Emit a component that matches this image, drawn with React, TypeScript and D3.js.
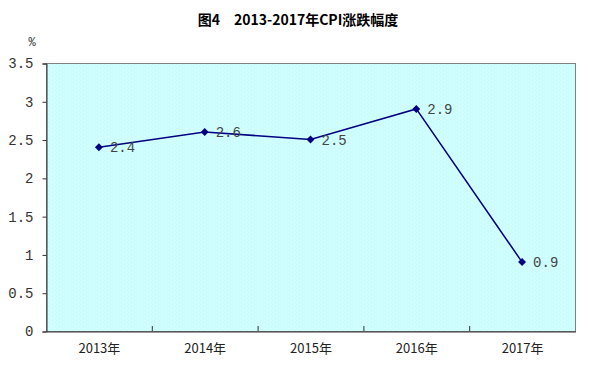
import React, { useEffect, useRef } from "react";
import * as d3 from "d3";

const years = ["2013年", "2014年", "2015年", "2016年", "2017年"];
const cpi = [2.4, 2.6, 2.5, 2.9, 0.9];
const yTicks = [0, 0.5, 1, 1.5, 2, 2.5, 3, 3.5];
const title = "图4　2013-2017年CPI涨跌幅度";

const W = 590;
const H = 368;
const M = { left: 46, right: 15, top: 63, bottom: 37 };

const fmt = (v: number) => (Number.isInteger(v) ? String(v) : v.toFixed(1));

const App: React.FC = () => {
  const ref = useRef<SVGSVGElement | null>(null);

  useEffect(() => {
    if (!ref.current) return;
    const svg = d3.select(ref.current);
    svg.selectAll("*").remove();

    const x = d3
      .scaleBand<string>()
      .domain(years)
      .range([M.left, W - M.right]);
    const y = d3
      .scaleLinear()
      .domain([0, 3.5])
      .range([H - M.bottom, M.top]);

    const defs = svg.append("defs");
    const pat = defs
      .append("pattern")
      .attr("id", "dots")
      .attr("patternUnits", "userSpaceOnUse")
      .attr("width", 6)
      .attr("height", 4);
    pat.append("rect").attr("width", 6).attr("height", 4).attr("fill", "#ccfefe");
    pat.append("rect").attr("x", 0).attr("y", 0).attr("width", 1).attr("height", 1).attr("fill", "#e8fefe");
    pat.append("rect").attr("x", 3).attr("y", 2).attr("width", 1).attr("height", 1).attr("fill", "#e8fefe");

    const font = "'Liberation Mono', 'DejaVu Sans Mono', monospace";
    const cjk = "'Noto Sans CJK SC', sans-serif";

    // title
    svg
      .append("text")
      .attr("x", 298)
      .attr("y", 25)
      .attr("text-anchor", "middle")
      .attr("font-family", cjk)
      .attr("font-weight", "bold")
      .attr("font-size", 14)
      .attr("fill", "#000")
      .text(title);

    svg
      .append("text")
      .attr("x", 32)
      .attr("y", 46)
      .attr("text-anchor", "middle")
      .attr("font-family", font)
      .attr("font-size", 12)
      .attr("fill", "#333")
      .text("%");

    // plot area
    svg
      .append("rect")
      .attr("x", M.left + 0.5)
      .attr("y", M.top + 0.5)
      .attr("width", W - M.left - M.right)
      .attr("height", H - M.top - M.bottom)
      .attr("fill", "url(#dots)")
      .attr("stroke", "#808080")
      .attr("stroke-width", 1);

    // y axis
    const yAxis = svg
      .append("g")
      .attr("transform", `translate(${M.left + 0.5},0.5)`)
      .call(
        d3
          .axisLeft(y)
          .tickValues(yTicks)
          .tickSize(4)
          .tickPadding(9)
          .tickFormat((d) => fmt(d as number))
      );
    yAxis.select(".domain").attr("stroke", "#333");
    yAxis.selectAll(".tick line").attr("stroke", "#333");
    yAxis
      .selectAll("text")
      .attr("font-family", font)
      .attr("font-size", 14)
      .attr("fill", "#333");

    // x axis
    const xAxis = svg
      .append("g")
      .attr("transform", `translate(0.5,${H - M.bottom + 0.5})`)
      .call(d3.axisBottom(x).tickSize(0).tickPadding(12));
    xAxis.select(".domain").attr("stroke", "#333");
    xAxis
      .selectAll("text")
      .attr("font-family", cjk)
      .attr("font-size", 13)
      .attr("fill", "#222");
    svg
      .append("g")
      .selectAll("line")
      .data(years.slice(1))
      .join("line")
      .attr("x1", (d) => (x(d) as number) + 0.5)
      .attr("x2", (d) => (x(d) as number) + 0.5)
      .attr("y1", H - M.bottom)
      .attr("y2", H - M.bottom - 5)
      .attr("stroke", "#333");

    const cx = (i: number) => (x(years[i]) as number) + x.bandwidth() / 2;

    const line = d3
      .line<number>()
      .x((_, i) => cx(i))
      .y((d) => y(d));

    svg
      .append("path")
      .datum(cpi)
      .attr("d", line)
      .attr("fill", "none")
      .attr("stroke", "#000080")
      .attr("stroke-width", 1.5);

    svg
      .append("g")
      .selectAll("path")
      .data(cpi)
      .join("path")
      .attr("d", d3.symbol(d3.symbolDiamond2, 40) as any)
      .attr("transform", (d, i) => `translate(${cx(i)},${y(d)})`)
      .attr("fill", "#000080");

    svg
      .append("g")
      .selectAll("text")
      .data(cpi)
      .join("text")
      .attr("x", (_, i) => cx(i) + 11)
      .attr("y", (d) => y(d) + 5)
      .attr("font-family", font)
      .attr("font-size", 14)
      .attr("fill", "#444")
      .text((d) => fmt(d));
  }, []);

  return (
    <svg
      ref={ref}
      width={W}
      height={H}
      style={{ position: "absolute", left: 0, top: 0, background: "#fff" }}
    ></svg>
  );
};

export default App;
